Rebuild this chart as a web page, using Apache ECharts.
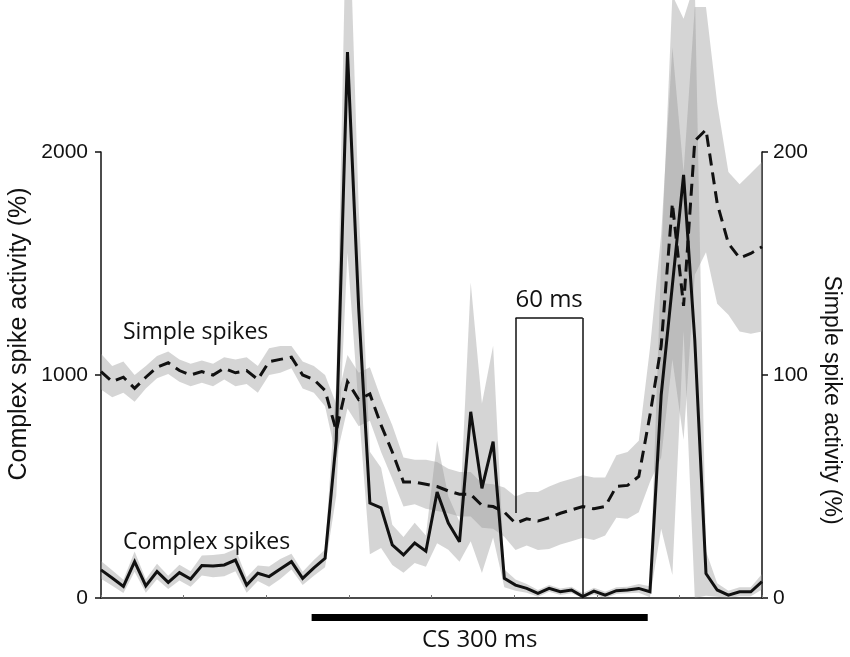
<!DOCTYPE html>
<html>
<head>
    <meta charset="utf-8">
</head>
<body style="margin: 0">
    <div id="container" style="width: 850px; height: 657px"></div>
    <script type="text/javascript" src="https://cdn.jsdelivr.net/npm/echarts@6/dist/echarts.min.js"></script>
    <script type="text/javascript">
    // one value per 10 ms bin, bin 0 sits on the left axis
    var binMs = 10;

    // complex spikes (left axis, %), mean and band half width
    var complexMean = [126, 90, 52, 163, 54, 119, 70, 114, 85, 146,
        143, 148, 170, 58, 111, 96, 130, 163, 88, 135,
        178, 708, 2448, 1300, 426, 404, 238, 193, 247, 210,
        475, 336, 252, 835, 492, 701, 88, 58, 43, 21,
        43, 28, 36, 6, 31, 13, 33, 36, 43, 28,
        910, 1403, 1897, 1157, 110, 36, 13, 28, 28, 73];
    var complexErr = [40, 35, 30, 45, 30, 35, 30, 35, 35, 45,
        50, 50, 50, 35, 35, 45, 45, 35, 30, 35,
        40, 250, 900, 450, 230, 180, 90, 80, 90, 70,
        230, 120, 90, 580, 380, 430, 40, 25, 20, 15,
        15, 15, 15, 15, 15, 15, 15, 15, 20, 25,
        600, 1300, 700, 1600, 100, 30, 20, 20, 20, 35];

    // simple spikes (right axis, %)
    var simpleMean = [101.5, 97, 99, 94, 99, 103.5, 105.5, 102, 100, 101.5,
        100, 103, 101, 102, 98, 106, 107, 108, 100, 98,
        93, 75, 97, 89, 91.5, 77.5, 65.5, 52, 52, 51,
        50, 48, 46.5, 46.5, 41.5, 41, 38.5, 33.5, 35.5, 34.5,
        36, 38, 39.5, 41, 40, 41, 50, 50.5, 54.5, 82,
        113, 177, 131, 205, 210, 177, 159, 152.5, 154.5, 157.5];
    var simpleErr = [8, 7, 7, 6, 5, 5, 5, 5, 5, 5,
        5, 5, 6, 6, 6, 6, 6, 5, 6, 6,
        7, 12, 12, 12, 12, 12, 12, 11, 10, 11,
        11, 10, 10, 10, 10, 10, 11, 12, 12, 13,
        14, 14, 14, 14, 14, 13, 14, 15, 16, 30,
        50, 70, 60, 60, 55, 45, 32, 33, 36, 38];

    var leftTicks = [0, 1000, 2000];
    var rightTicks = [0, 100, 200];
    var xTickCount = 8;

    // stimulus bar and 60 ms scale bracket (ms)
    var csOnset = 188;
    var csDuration = 300;
    var scaleStart = 370;
    var scaleWidth = 60;
    var scaleLevel = 1256;      // left axis units
    var scaleLeftFoot = 381;

    var dom = document.getElementById('container');
    var myChart = echarts.init(dom, null, { renderer: 'canvas' });

    var lastMs = (complexMean.length - 1) * binMs;
    var ink = '#111';
    var bandColor = 'rgba(150,150,150,0.4)';
    var noteFont = 'Open Sans';

    function toPairs(arr) {
        return arr.map(function (v, i) { return [i * binMs, v]; });
    }

    // mean +/- err drawn as one polygon through the axis scales
    function bandSeries(axis, mean, err) {
        return {
            type: 'custom',
            yAxisIndex: axis,
            silent: true,
            z: 1,
            data: toPairs(mean),
            encode: { x: 0, y: 1 },
            renderItem: function (params, api) {
                if (params.dataIndex !== 0) {
                    return;
                }
                var top = [];
                var bottom = [];
                for (var i = 0; i < mean.length; i++) {
                    top.push(api.coord([i * binMs, mean[i] + err[i]]));
                    bottom.push(api.coord([i * binMs, Math.max(0, mean[i] - err[i])]));
                }
                return {
                    type: 'polygon',
                    shape: { points: top.concat(bottom.reverse()) },
                    style: { fill: bandColor }
                };
            }
        };
    }

    var axisFont = {
        fontSize: 21, color: ink, fontFamily: 'Liberation Sans',
        formatter: function (v) { return String(v); }
    };

    var option = {
        animation: false,
        grid: { left: 101, right: 88, top: 152, bottom: 59 },
        xAxis: {
            type: 'value',
            min: 0,
            max: lastMs,
            interval: lastMs / xTickCount,
            axisLine: { lineStyle: { color: ink, width: 1.5 } },
            axisTick: { inside: true, length: 3, lineStyle: { color: '#777' } },
            axisLabel: { show: false },
            splitLine: { show: false }
        },
        yAxis: [{
            type: 'value',
            position: 'left',
            min: leftTicks[0],
            max: leftTicks[leftTicks.length - 1],
            interval: leftTicks[1] - leftTicks[0],
            axisLine: { show: true, lineStyle: { color: ink, width: 1.5 } },
            axisTick: { show: true, length: 6, lineStyle: { color: ink, width: 1.5 } },
            axisLabel: Object.assign({ margin: 13 }, axisFont),
            splitLine: { show: false }
        }, {
            type: 'value',
            position: 'right',
            min: rightTicks[0],
            max: rightTicks[rightTicks.length - 1],
            interval: rightTicks[1] - rightTicks[0],
            axisLine: { show: true, lineStyle: { color: ink, width: 1.5 } },
            axisTick: { show: true, length: 6, lineStyle: { color: ink, width: 1.5 } },
            axisLabel: Object.assign({ margin: 11 }, axisFont),
            splitLine: { show: false }
        }],
        graphic: [{
            type: 'text',
            x: 19, y: 334,
            rotation: Math.PI / 2,
            style: { text: 'Complex spike activity (%)', fontSize: 25, fontFamily: 'Liberation Sans',
                fill: ink, align: 'center', verticalAlign: 'middle' }
        }, {
            type: 'text',
            x: 831, y: 400,
            rotation: -Math.PI / 2,
            style: { text: 'Simple spike activity (%)', fontSize: 23, fontFamily: 'Liberation Sans',
                fill: ink, align: 'center', verticalAlign: 'middle' }
        }, {
            type: 'text',
            x: 123, y: 344,
            style: { text: 'Simple spikes', fontSize: 23, fontFamily: noteFont,
                fill: ink, align: 'left', verticalAlign: 'bottom' }
        }, {
            type: 'text',
            x: 123, y: 554,
            style: { text: 'Complex spikes', fontSize: 23, fontFamily: noteFont,
                fill: ink, align: 'left', verticalAlign: 'bottom' }
        }],
        series: [
            bandSeries(0, complexMean, complexErr),
            bandSeries(1, simpleMean, simpleErr),
            {
                name: 'Complex spikes',
                type: 'line',
                yAxisIndex: 0,
                data: toPairs(complexMean),
                symbol: 'none',
                clip: false,
                z: 3,
                lineStyle: { color: ink, width: 3, join: 'miter', miterLimit: 3 },
                markLine: {
                    silent: true,
                    symbol: ['none', 'none'],
                    label: { show: false },
                    lineStyle: { color: ink, width: 1.5, type: 'solid' },
                    data: [
                        [{
                            coord: [scaleStart, scaleLevel],
                            label: { show: true, position: 'insideMiddleTop', formatter: '60 ms',
                                fontSize: 24, fontFamily: noteFont, color: ink, distance: 6 }
                        }, { coord: [scaleStart + scaleWidth, scaleLevel] }],
                        [{ coord: [scaleStart, scaleLevel] }, { coord: [scaleStart, scaleLeftFoot] }],
                        [{ coord: [scaleStart + scaleWidth, scaleLevel] }, { coord: [scaleStart + scaleWidth, 0] }]
                    ]
                }
            }, {
                name: 'Simple spikes',
                type: 'line',
                yAxisIndex: 1,
                data: toPairs(simpleMean),
                symbol: 'none',
                clip: false,
                z: 3,
                lineStyle: { color: ink, width: 3, type: [12, 7], join: 'miter', miterLimit: 3 }
            }, {
                // CS bar under the time axis, ends placed by the x scale
                name: 'CS',
                type: 'custom',
                yAxisIndex: 0,
                silent: true,
                z: 3,
                data: [[csOnset, 0]],
                encode: { x: 0, y: 1 },
                renderItem: function (params, api) {
                    var a = api.coord([csOnset, 0]);
                    var b = api.coord([csOnset + csDuration, 0]);
                    return {
                        type: 'group',
                        children: [{
                            type: 'rect',
                            shape: { x: a[0], y: a[1] + 16, width: b[0] - a[0], height: 7 },
                            style: { fill: '#000' }
                        }, {
                            type: 'text',
                            x: (a[0] + b[0]) / 2,
                            y: a[1] + 42,
                            style: { text: 'CS 300 ms', fontSize: 24, fontFamily: noteFont,
                                fill: ink, align: 'center', verticalAlign: 'middle' }
                        }]
                    };
                }
            }
        ]
    };

    myChart.setOption(option);
    window.addEventListener('resize', myChart.resize);
    </script>
</body>
</html>
